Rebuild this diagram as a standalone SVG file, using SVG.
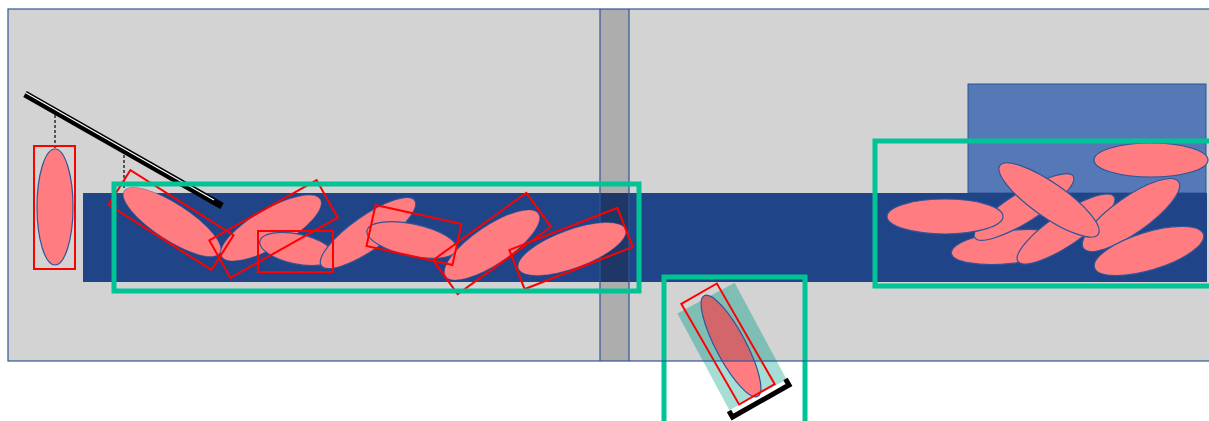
<svg xmlns="http://www.w3.org/2000/svg" width="1209" height="421" viewBox="0 0 1209 421">
<style>
.pk{fill:#ff7c80;stroke:#2f5597;stroke-width:1.2}
.soft{fill:#ff7c80;stroke:#2f5597;stroke-width:1;stroke-opacity:0.45}
.rb{fill:none;stroke:#ff0000;stroke-width:2}
.gb{fill:none;stroke:#00c495;stroke-width:5}
.dash{stroke:#000;stroke-width:1.2;stroke-dasharray:3 2}
</style>
<defs>
<clipPath id="inP"><rect x="0" y="0" width="1209" height="361"/></clipPath>
<clipPath id="outP"><rect x="0" y="361" width="1209" height="60"/></clipPath>
</defs>
<rect x="0" y="0" width="1209" height="421" fill="#ffffff"/>
<g id="panel">
<rect x="8" y="9" width="1210" height="352" fill="#d3d3d3"/>
<rect x="600" y="9" width="29" height="352" fill="#adadad"/>
<rect x="968" y="84" width="238" height="109" fill="#5578b6" stroke="#2f5597" stroke-width="1"/>
<rect x="83" y="193" width="1124" height="89" fill="#1f4488"/>
<rect x="600" y="193" width="29" height="89" fill="#1e3766"/>
<line x1="600" y1="9" x2="600" y2="361" stroke="#2f5597" stroke-width="1.2"/>
<line x1="629" y1="9" x2="629" y2="361" stroke="#2f5597" stroke-width="1.2"/>
</g>
<g id="bar">
<line x1="25" y1="94" x2="222" y2="206" stroke="#000" stroke-width="7"/>
<line x1="25.7" y1="92.7" x2="214" y2="200" stroke="#fff" stroke-width="1.2"/>
</g>
<g id="connectors">
<line class="dash" x1="55" y1="115" x2="55" y2="149"/>
<line class="dash" x1="124" y1="155" x2="124" y2="190"/>
</g>
<g id="node-single">
<ellipse class="pk" cx="55" cy="207" rx="18" ry="58"/>
<rect class="rb" x="34" y="146" width="41" height="123"/>
</g>
<g id="node-stream">
<ellipse class="soft" transform="translate(172,222) rotate(33)" rx="57" ry="18"/>
<ellipse class="soft" transform="translate(271,228) rotate(-30)" rx="57" ry="19"/>
<ellipse class="pk" transform="translate(297,249) rotate(12)" rx="38" ry="15"/>
<ellipse class="pk" transform="translate(368,233) rotate(-35)" rx="57" ry="17"/>
<ellipse class="pk" transform="translate(412,240) rotate(12)" rx="46" ry="16"/>
<ellipse class="soft" transform="translate(492,245) rotate(-34)" rx="56" ry="19"/>
<ellipse class="soft" transform="translate(572,249) rotate(-20)" rx="57" ry="19"/>
<rect class="rb" transform="translate(171,220) rotate(32.3)" x="-61" y="-20.5" width="122" height="41"/>
<rect class="rb" transform="translate(273.5,229) rotate(-29.3)" x="-61.5" y="-21.5" width="123" height="43"/>
<rect class="rb" x="258" y="231" width="75" height="41"/>
<rect class="rb" transform="translate(414,235) rotate(12.5)" x="-44" y="-21" width="88" height="42"/>
<rect class="rb" transform="translate(492,243.5) rotate(-35.8)" x="-57.5" y="-21" width="115" height="42"/>
<rect class="rb" transform="translate(571,248.5) rotate(-21.3)" x="-58" y="-21" width="116" height="42"/>
<rect class="gb" x="114" y="184" width="525" height="107"/>
</g>
<g id="node-measure">
<g clip-path="url(#outP)">
<rect transform="translate(732,346.5) rotate(61.8)" x="-55" y="-32.5" width="110" height="65" fill="#00a08a" fill-opacity="0.35"/>
<ellipse class="pk" transform="translate(731,346) rotate(62)" rx="57" ry="15"/>
</g>
<g clip-path="url(#inP)">
<rect transform="translate(732,346.5) rotate(61.8)" x="-55" y="-32.5" width="110" height="65" fill="#00a08a" fill-opacity="0.4"/>
<ellipse transform="translate(731,346) rotate(62)" rx="57" ry="15" fill="#d2666a" stroke="#2f5597" stroke-width="1.2"/>
</g>
<rect class="rb" transform="translate(728,344) rotate(60.1)" x="-58" y="-20.5" width="116" height="41"/>
<polyline points="729,411 732.5,417 789,385 785.5,379" fill="none" stroke="#000" stroke-width="5" stroke-linejoin="miter"/>
<rect class="gb" x="664" y="277" width="141" height="150"/>
</g>
<g id="node-pile">
<ellipse class="pk" cx="1151" cy="160" rx="57" ry="17"/>
<ellipse class="pk" transform="translate(1010,247) rotate(-6)" rx="59" ry="16.5"/>
<ellipse class="pk" transform="translate(1024,207) rotate(-32)" rx="58" ry="15"/>
<ellipse class="pk" cx="945" cy="216.5" rx="58" ry="17.5"/>
<ellipse class="pk" transform="translate(1066,229) rotate(-34)" rx="58" ry="16"/>
<ellipse class="pk" transform="translate(1131,215) rotate(-35)" rx="58" ry="18"/>
<ellipse class="pk" transform="translate(1149,251) rotate(-17)" rx="57" ry="19"/>
<ellipse class="pk" transform="translate(1049,200) rotate(35)" rx="60" ry="17"/>
<rect class="gb" x="875" y="141" width="345" height="145"/>
</g>
<g id="panel-border">
<rect x="8" y="9" width="1210" height="352" fill="none" stroke="#2f5597" stroke-width="1.2"/>
</g>
</svg>
